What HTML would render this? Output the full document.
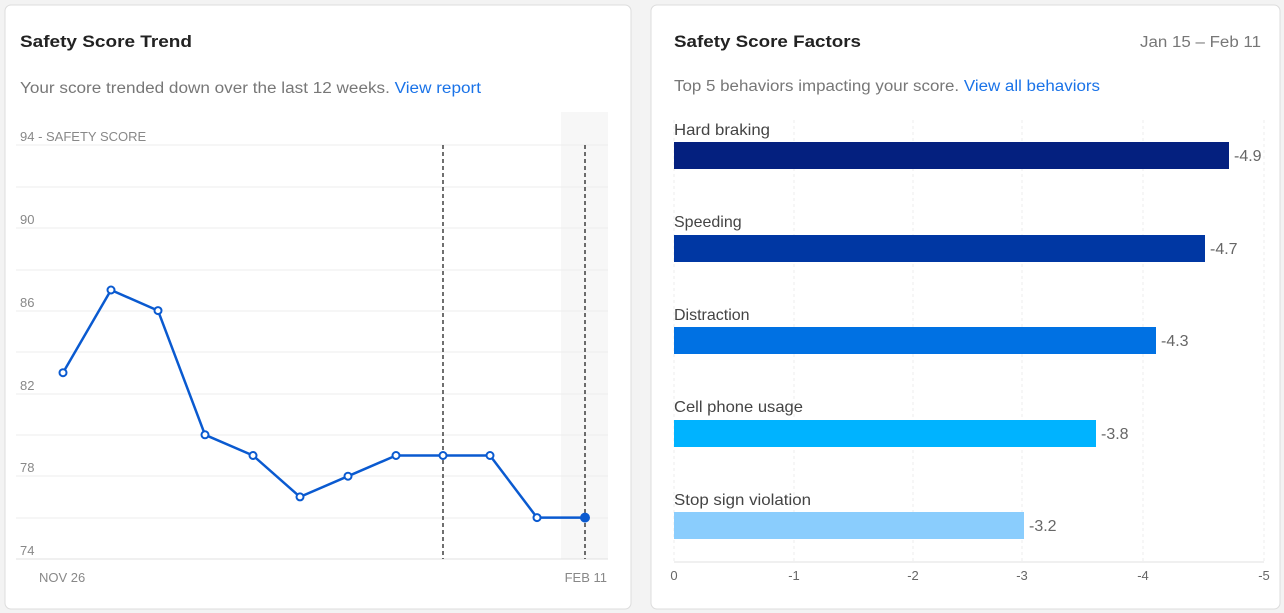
<!DOCTYPE html>
<html><head><meta charset="utf-8"><style>
html,body{margin:0;padding:0;background:#f3f3f3;width:1284px;height:613px;overflow:hidden}
svg{display:block;font-family:"Liberation Sans",sans-serif}
</style></head><body>
<svg width="1284" height="613" viewBox="0 0 1284 613">
<rect x="5" y="5" width="626" height="604" rx="6" fill="#fff" stroke="#dcdcdc"/>
<rect x="651" y="5" width="629" height="604" rx="6" fill="#fff" stroke="#dcdcdc"/>
<text x="20" y="47" font-size="17" font-weight="bold" fill="#222" textLength="172" lengthAdjust="spacingAndGlyphs">Safety Score Trend</text>
<text x="20" y="93" font-size="15.5" fill="#777" textLength="461" lengthAdjust="spacingAndGlyphs">Your score trended down over the last 12 weeks. <tspan fill="#1a73e8">View report</tspan></text>
<rect x="561" y="112" width="47" height="447" fill="#f7f7f7"/>
<g stroke="#ececec" stroke-width="1">
<line x1="16" x2="608" y1="145" y2="145"/><line x1="16" x2="608" y1="187" y2="187"/>
<line x1="16" x2="608" y1="228" y2="228"/><line x1="16" x2="608" y1="270" y2="270"/>
<line x1="16" x2="608" y1="311" y2="311"/><line x1="16" x2="608" y1="352" y2="352"/>
<line x1="16" x2="608" y1="394" y2="394"/><line x1="16" x2="608" y1="435" y2="435"/>
<line x1="16" x2="608" y1="476" y2="476"/><line x1="16" x2="608" y1="518" y2="518"/>
<line x1="16" x2="608" y1="559" y2="559" stroke="#e0e0e0"/>
</g>
<g font-size="13" fill="#888">
<text x="20" y="141">94 - SAFETY SCORE</text>
<text x="20" y="224">90</text><text x="20" y="307">86</text><text x="20" y="390">82</text>
<text x="20" y="472">78</text><text x="20" y="555">74</text>
<text x="39" y="582">NOV 26</text><text x="607" y="582" text-anchor="end">FEB 11</text>
</g>
<g stroke="#222" stroke-width="1.3" stroke-dasharray="4,3">
<line x1="443" x2="443" y1="145" y2="559"/><line x1="585" x2="585" y1="145" y2="559"/>
</g>
<polyline fill="none" stroke="#0a5ad0" stroke-width="2.5" stroke-linejoin="round" points="63,372.7 111,290 158,310.6 205,434.8 253,455.5 300,496.9 348,476.2 396,455.5 443,455.5 490,455.5 537,517.6 585,517.6"/>
<g fill="#fff" stroke="#0a5ad0" stroke-width="2">
<circle cx="63" cy="372.7" r="3.5"/><circle cx="111" cy="290" r="3.5"/><circle cx="158" cy="310.6" r="3.5"/>
<circle cx="205" cy="434.8" r="3.5"/><circle cx="253" cy="455.5" r="3.5"/><circle cx="300" cy="496.9" r="3.5"/>
<circle cx="348" cy="476.2" r="3.5"/><circle cx="396" cy="455.5" r="3.5"/><circle cx="443" cy="455.5" r="3.5"/>
<circle cx="490" cy="455.5" r="3.5"/><circle cx="537" cy="517.6" r="3.5"/>
<circle cx="585" cy="517.6" r="4" fill="#0a5ad0"/>
</g>
<text x="674" y="47" font-size="17" font-weight="bold" fill="#222" textLength="187" lengthAdjust="spacingAndGlyphs">Safety Score Factors</text>
<text x="1261" y="47" font-size="15.5" fill="#777" text-anchor="end" textLength="121" lengthAdjust="spacingAndGlyphs">Jan 15 – Feb 11</text>
<text x="674" y="91" font-size="15.5" fill="#777" textLength="426" lengthAdjust="spacingAndGlyphs">Top 5 behaviors impacting your score. <tspan fill="#1a73e8">View all behaviors</tspan></text>
<g stroke="#eee" stroke-dasharray="3,3">
<line x1="674" x2="674" y1="120" y2="561"/><line x1="794" x2="794" y1="120" y2="561"/>
<line x1="913" x2="913" y1="120" y2="561"/><line x1="1022" x2="1022" y1="120" y2="561"/>
<line x1="1143" x2="1143" y1="120" y2="561"/><line x1="1264" x2="1264" y1="120" y2="561"/>
</g>
<line x1="674" x2="1264" y1="562" y2="562" stroke="#e0e0e0"/>
<g font-size="16" fill="#444">
<text x="674" y="135" textLength="96" lengthAdjust="spacingAndGlyphs">Hard braking</text>
<text x="674" y="227">Speeding</text>
<text x="674" y="320">Distraction</text>
<text x="674" y="412" textLength="129" lengthAdjust="spacingAndGlyphs">Cell phone usage</text>
<text x="674" y="505" textLength="137" lengthAdjust="spacingAndGlyphs">Stop sign violation</text>
</g>
<rect x="674" y="142" width="555" height="27" fill="#04207f"/>
<rect x="674" y="235" width="531" height="27" fill="#0037a3"/>
<rect x="674" y="327" width="482" height="27" fill="#0071e3"/>
<rect x="674" y="420" width="422" height="27" fill="#00b3ff"/>
<rect x="674" y="512" width="350" height="27" fill="#8acdfd"/>
<g font-size="16" fill="#666">
<text x="1234" y="161">-4.9</text><text x="1210" y="254">-4.7</text>
<text x="1161" y="346">-4.3</text><text x="1101" y="439">-3.8</text><text x="1029" y="531">-3.2</text>
</g>
<g font-size="13" fill="#666" text-anchor="middle">
<text x="674" y="580">0</text><text x="794" y="580">-1</text><text x="913" y="580">-2</text>
<text x="1022" y="580">-3</text><text x="1143" y="580">-4</text><text x="1264" y="580">-5</text>
</g>
</svg>
</body></html>
